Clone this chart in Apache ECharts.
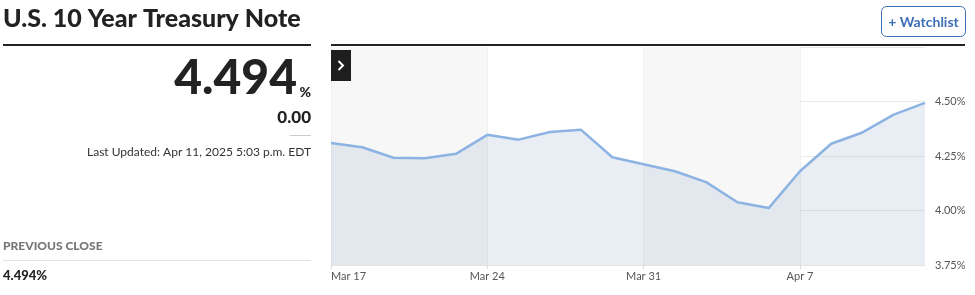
<!DOCTYPE html>
<html><head><meta charset="utf-8">
<script src="https://cdn.jsdelivr.net/npm/echarts@6/dist/echarts.min.js"></script>
<style>html,body{margin:0;padding:0;background:#fff;}#c{width:975px;height:295px;}</style>
</head><body><div id="c"></div>
<script>
const dates = ['Mar 17','Mar 18','Mar 19','Mar 20','Mar 21','Mar 24','Mar 25','Mar 26','Mar 27','Mar 28','Mar 31','Apr 1','Apr 2','Apr 3','Apr 4','Apr 7','Apr 8','Apr 9','Apr 10','Apr 11'];
const yields = [4.310,4.290,4.242,4.240,4.260,4.347,4.325,4.360,4.370,4.244,4.212,4.180,4.130,4.038,4.011,4.180,4.306,4.358,4.440,4.494];
const yTicks = [3.75,4.00,4.25,4.50,4.75];
const title = 'U.S. 10 Year Treasury Note';
const lastValue = '4.494';
const change = '0.00';
const updated = 'Last Updated: Apr 11, 2025 5:03 p.m. EDT';
const prevCloseLabel = 'PREVIOUS CLOSE';
const prevClose = '4.494%';

const FF = 'Lato, "Noto Sans", sans-serif';
function T(text,x,y,size,weight,fill,align,extra){
  return Object.assign({type:'text',style:{text:text,x:x,y:y,fontSize:size,fontWeight:weight,fontFamily:FF,fill:fill,
    textAlign:align||'left',textVerticalAlign:'bottom'}},extra||{});
}
const chart = echarts.init(document.getElementById('c'), null, {renderer:'canvas'});
chart.setOption({
  animation:false,
  grid:{left:331,right:50,top:47,bottom:30},
  xAxis:{
    type:'category', data:dates, boundaryGap:false,
    axisLine:{show:true,lineStyle:{color:'#e3e3e3'}},
    axisTick:{show:true,interval:4,length:4,lineStyle:{color:'#dcdcdc'}},
    axisLabel:{interval:4,color:'#555',fontSize:11,fontFamily:FF,margin:6,alignMinLabel:'left'},
    splitLine:{show:true,interval:4,lineStyle:{color:'#f0f0f0'}},
    splitArea:{show:true,interval:4,areaStyle:{color:['#f7f7f7','#ffffff']}}
  },
  yAxis:{
    type:'value', position:'right', min:yTicks[0], max:yTicks[yTicks.length-1], interval:0.25,
    axisLine:{show:false}, axisTick:{show:false},
    axisLabel:{color:'#555',fontSize:11,fontFamily:FF,margin:10,showMaxLabel:false,
      formatter:v=>v.toFixed(2)+'%'},
    splitLine:{lineStyle:{color:'#e8e8e8'}}
  },
  series:[{
    type:'line', data:yields, symbol:'none', smooth:false,
    lineStyle:{color:'#8cb3e2',width:2.5},
    areaStyle:{color:'rgba(160,182,212,0.33)'}
  }],
  graphic:[
    T(title,3,31,25,900,'#222'),
    {type:'rect',shape:{x:3,y:44,width:308,height:2},style:{fill:'#222'}},
    {type:'rect',shape:{x:331,y:44,width:634,height:2},style:{fill:'#222'}},
    T(lastValue,297,103,48,900,'#222','right'),
    T('%',311,99,14,900,'#222','right'),
    T(change,311,126,17,900,'#222','right'),
    {type:'rect',shape:{x:290,y:135,width:21,height:1},style:{fill:'#ccc'}},
    T(updated,311,158,12,'normal','#333','right'),
    T(prevCloseLabel,3,252,12,900,'#777'),
    {type:'rect',shape:{x:3,y:260,width:308,height:1},style:{fill:'#e3e3e3'}},
    T(prevClose,3,282,13,900,'#222'),
    {type:'rect',shape:{x:881.5,y:6.5,width:84,height:30,r:5},style:{fill:'#fff',stroke:'#3d6fb6',lineWidth:1}},
    T('+ Watchlist',923.5,29,14,'bold','#3d6fb6','center'),
    {type:'rect',shape:{x:331,y:50,width:20,height:31},style:{fill:'#1e1e1e'},z:100},
    {type:'polyline',shape:{points:[[338.5,61],[343,65.5],[338.5,70]]},style:{stroke:'#fff',lineWidth:2,fill:null},z:101}
  ]
});
</script></body></html>
